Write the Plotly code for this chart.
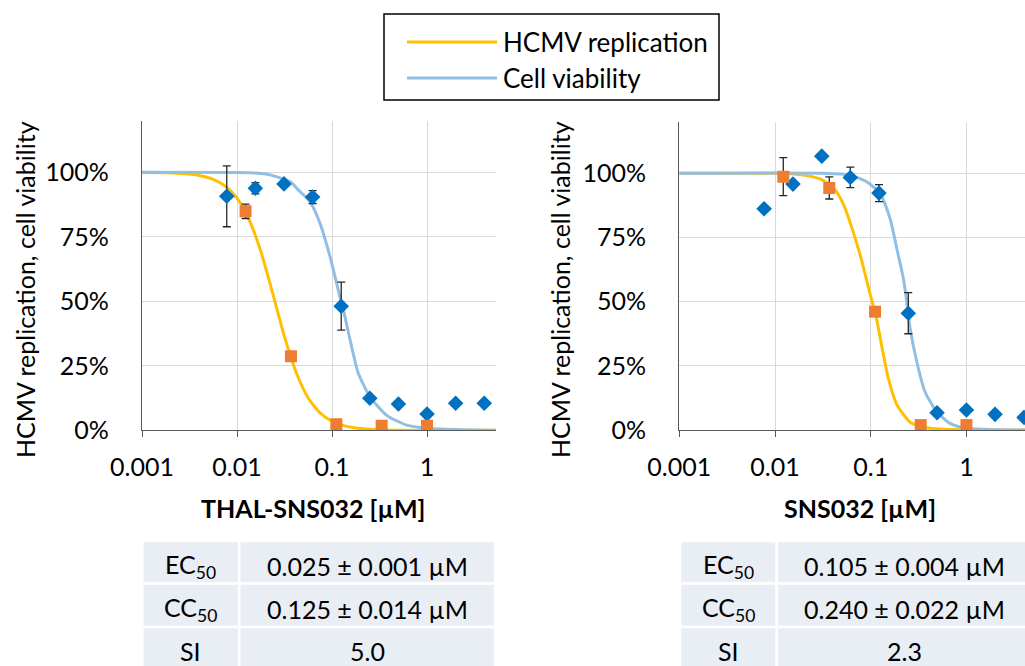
import plotly.graph_objects as go

W, H = 1025, 666
FONT = "Lato"

# ---------------- data ----------------
tick_x_vals = [0.001, 0.01, 0.1, 1]
tick_x_text = ["0.001", "0.01", "0.1", "1"]
tick_y_vals = [0, 0.25, 0.5, 0.75, 1.0]
tick_y_text = ["0%", "25%", "50%", "75%", "100%"]

# THAL-SNS032 panel
thal_viab_conc = [0.0078, 0.0156, 0.03125, 0.0625, 0.125, 0.25, 0.5, 1, 2, 4]
thal_viab = [0.907, 0.938, 0.955, 0.904, 0.481, 0.124, 0.102, 0.063, 0.105, 0.105]
thal_viab_err = [0.118, 0.022, 0.0, 0.025, 0.093, 0, 0, 0, 0, 0]
thal_rep_conc = [0.0123, 0.037, 0.111, 0.333, 1.0]
thal_rep = [0.849, 0.287, 0.023, 0.018, 0.018]
thal_rep_err = [0.028, 0, 0, 0, 0]

thal_rep_fit_x = [0.001, 0.00178, 0.00316, 0.00422, 0.00562, 0.0075, 0.01, 0.0133, 0.0178,
                  0.0237, 0.0316, 0.0422, 0.0562, 0.075, 0.1, 0.133, 0.178, 0.316, 1.0, 5.3]
thal_rep_fit_y = [1.0, 0.998, 0.993, 0.986, 0.973, 0.947, 0.900, 0.819, 0.694,
                  0.532, 0.363, 0.222, 0.125, 0.067, 0.035, 0.018, 0.009, 0.002, 0.0, 0.0]
thal_viab_fit_x = [0.001, 0.01, 0.0158, 0.0222, 0.0361, 0.0447, 0.0586, 0.0748, 0.0953,
                   0.121, 0.132, 0.155, 0.189, 0.251, 0.376, 0.611, 1.0, 2.0, 5.3]
thal_viab_fit_y = [1.0, 0.999, 0.997, 0.990, 0.964, 0.93, 0.886, 0.802, 0.673,
                   0.518, 0.466, 0.35, 0.221, 0.130, 0.058, 0.02, 0.008, 0.003, 0.0]

# SNS032 panel
sns_viab_conc = [0.0077, 0.0154, 0.0308, 0.0612, 0.122, 0.247, 0.493, 1, 1.99, 4]
sns_viab = [0.862, 0.958, 1.067, 0.984, 0.923, 0.455, 0.067, 0.078, 0.061, 0.049]
sns_viab_err = [0, 0, 0, 0.04, 0.033, 0.08, 0, 0, 0, 0]
sns_rep_conc = [0.0122, 0.0369, 0.111, 0.333, 1.0]
sns_rep = [0.987, 0.943, 0.461, 0.019, 0.019]
sns_rep_err = [0.074, 0.043, 0, 0, 0]

sns_rep_fit_x = [0.001, 0.01, 0.0182, 0.0295, 0.0406, 0.0518, 0.0658, 0.0805, 0.0984, 0.1135,
                 0.130, 0.153, 0.187, 0.258, 0.385, 1.0, 4.2]
sns_rep_fit_y = [1.0, 1.0, 0.995, 0.978, 0.945, 0.88, 0.77, 0.66, 0.53, 0.445,
                 0.33, 0.20, 0.10, 0.03, 0.009, 0.0, 0.0]
sns_viab_fit_x = [0.001, 0.0316, 0.0608, 0.0908, 0.125, 0.159, 0.187, 0.219, 0.238, 0.258,
                  0.303, 0.369, 0.490, 0.675, 1.0, 4.2]
sns_viab_fit_y = [1.0, 1.0, 0.993, 0.967, 0.922, 0.825, 0.708, 0.591, 0.50, 0.396,
                  0.266, 0.149, 0.071, 0.026, 0.007, 0.0]

series_names = ["HCMV replication", "Cell viability"]
compound_names = ["THAL-SNS032 [µM]", "SNS032 [µM]"]
y_title = "HCMV replication, cell viability"
table_labels = ["EC<sub>50</sub>", "CC<sub>50</sub>", "SI"]
thal_table = ["0.025 ± 0.001 µM", "0.125 ± 0.014 µM", "5.0"]
sns_table = ["0.105 ± 0.004 µM", "0.240 ± 0.022 µM", "2.3"]

# ---------------- styles ----------------
YELLOW = "#FFC000"
LBLUE = "#92BEE4"
ORANGE = "#ED7D31"
DBLUE = "#0070C0"
GRID = "#D9D9D9"
AXIS = "#595959"
CELL = "#E9EDF4"
FS = 25


def px(x):
    return x / W


def py(y):
    return 1 - y / H


fig = go.Figure()


def add_panel(xa, ya, rfx, rfy, vfx, vfy, vc, v, ve, rc, r, re):
    fig.add_trace(go.Scatter(x=rfx, y=rfy, mode="lines", line=dict(color=YELLOW, width=3, shape="spline", smoothing=0.6),
                             xaxis=xa, yaxis=ya, showlegend=False, hoverinfo="skip"))
    fig.add_trace(go.Scatter(x=vfx, y=vfy, mode="lines", line=dict(color=LBLUE, width=3, shape="spline", smoothing=0.6),
                             xaxis=xa, yaxis=ya, showlegend=False, hoverinfo="skip"))
    fig.add_trace(go.Scatter(x=vc, y=v, mode="markers",
                             marker=dict(symbol="diamond", size=12, color=DBLUE, line=dict(width=0)),
                             error_y=dict(type="data", array=ve, color="#262626", thickness=1.3, width=4),
                             xaxis=xa, yaxis=ya, showlegend=False))
    fig.add_trace(go.Scatter(x=rc, y=r, mode="markers",
                             marker=dict(symbol="square", size=12, color=ORANGE, line=dict(width=0)),
                             error_y=dict(type="data", array=re, color="#262626", thickness=1.3, width=4),
                             xaxis=xa, yaxis=ya, showlegend=False))


add_panel("x", "y", thal_rep_fit_x, thal_rep_fit_y, thal_viab_fit_x, thal_viab_fit_y,
          thal_viab_conc, thal_viab, thal_viab_err, thal_rep_conc, thal_rep, thal_rep_err)
add_panel("x2", "y2", sns_rep_fit_x, sns_rep_fit_y, sns_viab_fit_x, sns_viab_fit_y,
          sns_viab_conc, sns_viab, sns_viab_err, sns_rep_conc, sns_rep, sns_rep_err)

xcommon = dict(type="log", tickvals=tick_x_vals, ticktext=tick_x_text, showgrid=True, gridcolor=GRID,
               gridwidth=1.3, showline=True, linecolor=AXIS, linewidth=1.3, ticks="outside", ticklen=6,
               tickcolor=AXIS, tickwidth=1.3, tickfont=dict(size=FS, color="black", family=FONT),
               ticklabelstandoff=9, zeroline=False, fixedrange=True, automargin=False)
ycommon = dict(range=[0, 1.2], tickvals=tick_y_vals, ticktext=tick_y_text, showgrid=True, gridcolor=GRID,
               gridwidth=1.3, showline=True, linecolor=AXIS, linewidth=1.3, ticks="",
               tickfont=dict(size=FS, color="black", family=FONT), ticklabelstandoff=27,
               zeroline=False, fixedrange=True, automargin=False)

fig.update_layout(
    width=W, height=H, margin=dict(l=0, r=0, t=0, b=0, pad=0, autoexpand=False),
    paper_bgcolor="white", plot_bgcolor="white",
    font=dict(family=FONT, size=FS, color="black"),
    showlegend=False,
    xaxis=dict(xcommon, domain=[px(142), px(496)], range=[-3, 0.726], anchor="y"),
    yaxis=dict(ycommon, domain=[py(430.3), py(120.7)], anchor="x"),
    xaxis2=dict(xcommon, domain=[px(679.3), 1.0], range=[-3, 0.612], anchor="y2"),
    yaxis2=dict(ycommon, domain=[py(430), py(122)], anchor="x2"),
)

shapes = []
annotations = []

# legend box
shapes.append(dict(type="rect", xref="paper", yref="paper", x0=px(384), x1=px(719), y0=py(100), y1=py(14),
                   line=dict(color="black", width=1.5), fillcolor="white"))
for i, (col, name) in enumerate(zip([YELLOW, LBLUE], series_names)):
    yy = [42, 78][i]
    shapes.append(dict(type="line", xref="paper", yref="paper", x0=px(407), x1=px(497), y0=py(yy), y1=py(yy),
                       line=dict(color=col, width=3)))
    annotations.append(dict(xref="paper", yref="paper", x=px(501), y=py(yy), text=name, showarrow=False,
                            xanchor="left", yanchor="middle", font=dict(size=26)))

# axis titles
for cx in [25, 560]:
    annotations.append(dict(xref="paper", yref="paper", x=px(cx), y=py(290), text=y_title, showarrow=False,
                            textangle=-90, xanchor="center", yanchor="middle", font=dict(size=FS)))
for cx, name in zip([313, 860], compound_names):
    annotations.append(dict(xref="paper", yref="paper", x=px(cx), y=py(508), text="<b>" + name + "</b>",
                            showarrow=False, xanchor="center", yanchor="middle", font=dict(size=FS)))

# tables
rows = [(541, 583.5), (583.5, 627), (627, 670)]
for (x0, xd, x1), vals in [((142.3, 239.3, 495), thal_table), ((680, 776.7, 1033), sns_table)]:
    for ri, (ya, yb) in enumerate(rows):
        for (ca, cb), txt in [((x0, xd), table_labels[ri]), ((xd, x1), vals[ri])]:
            shapes.append(dict(type="rect", xref="paper", yref="paper", x0=px(ca), x1=px(cb),
                               y0=py(yb), y1=py(ya), fillcolor=CELL, line=dict(color="white", width=2.5)))
            ann = dict(xref="paper", yref="paper", x=px((ca + cb) / 2), y=py((ya + yb) / 2 + 4),
                       text=txt, showarrow=False, xanchor="center", yanchor="middle", font=dict(size=FS))
            if ri == 2:
                ann.update(y=py(650.5), height=30, valign="middle")
            annotations.append(ann)

fig.update_layout(shapes=shapes, annotations=annotations)
fig.write_html("out.html", config={"displayModeBar": False})
